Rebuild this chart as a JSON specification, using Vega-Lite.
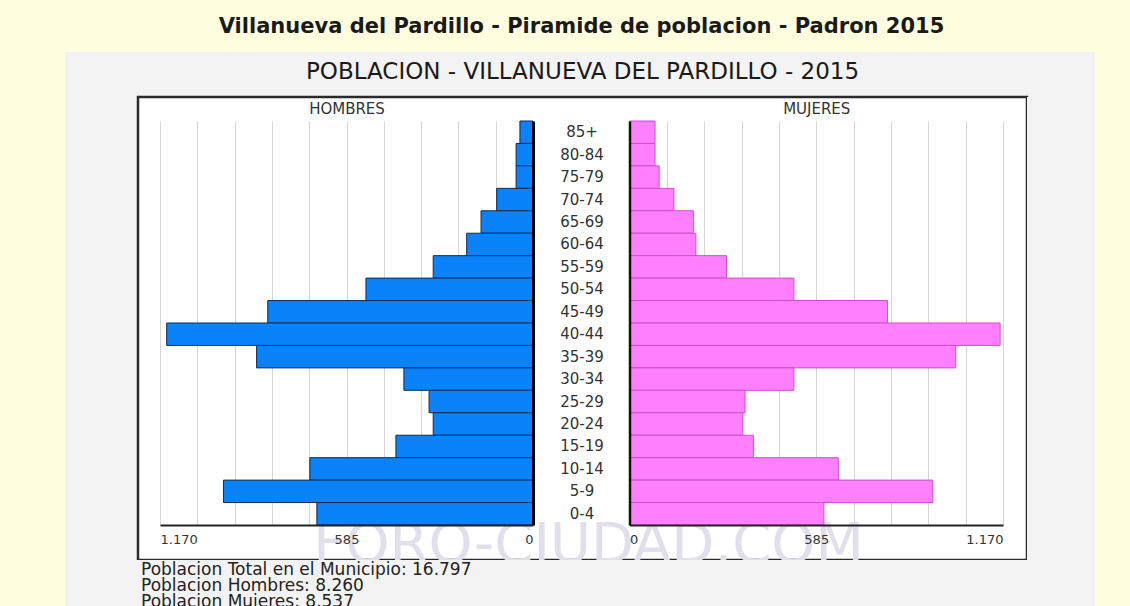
{
  "$schema": "https://vega.github.io/schema/vega-lite/v6.json",
  "background": "#ffffe0",
  "padding": 0,
  "spacing": 0,
  "columns": 5,
  "align": "each",
  "bounds": "flush",
  "config": {
    "font": "DejaVu Sans",
    "view": {"stroke": null},
    "concat": {"spacing": 0},
    "locale": {"number": {"decimal": ",", "thousands": ".", "grouping": [3], "currency": ["", " €"]}}
  },
  "concat": [
    {"width": 65, "height": 52, "data": {"values": [{}]}, "mark": "text", "encoding": {"text": {"value": ""}}},
    {"width": 73, "height": 52, "data": {"values": [{}]}, "mark": "text", "encoding": {"text": {"value": ""}}},
    {
      "width": 889,
      "height": 52,
      "data": {"values": [{"t": "Villanueva del Pardillo - Piramide de poblacion - Padron 2015"}]},
      "mark": {"type": "text", "fontWeight": "bold", "fontSize": 21, "color": "#1a1a1a", "dx": -1, "dy": 1},
      "encoding": {"text": {"field": "t"}}
    },
    {"width": 68, "height": 52, "data": {"values": [{}]}, "mark": "text", "encoding": {"text": {"value": ""}}},
    {"width": 35, "height": 52, "data": {"values": [{}]}, "mark": "text", "encoding": {"text": {"value": ""}}},

    {"width": 65, "height": 45, "data": {"values": [{}]}, "mark": "text", "encoding": {"text": {"value": ""}}},
    {"width": 73, "height": 45, "view": {"fill": "#f3f3f3", "stroke": null}, "data": {"values": [{}]}, "mark": "text", "encoding": {"text": {"value": ""}}},
    {
      "width": 889,
      "height": 45,
      "view": {"fill": "#f3f3f3", "stroke": null},
      "data": {"values": [{"t": "POBLACION - VILLANUEVA DEL PARDILLO - 2015"}]},
      "mark": {"type": "text", "fontSize": 23, "color": "#1a1a1a", "dy": -3},
      "encoding": {"text": {"field": "t"}}
    },
    {"width": 68, "height": 45, "view": {"fill": "#f3f3f3", "stroke": null}, "data": {"values": [{}]}, "mark": "text", "encoding": {"text": {"value": ""}}},
    {"width": 35, "height": 45, "data": {"values": [{}]}, "mark": "text", "encoding": {"text": {"value": ""}}},

    {"width": 65, "height": 463, "data": {"values": [{}]}, "mark": "text", "encoding": {"text": {"value": ""}}},
    {"width": 73, "height": 463, "view": {"fill": "#f3f3f3", "stroke": null}, "data": {"values": [{}]}, "mark": "text", "encoding": {"text": {"value": ""}}},
    {
      "width": 889,
      "height": 463,
      "view": {"fill": "#ffffff", "stroke": "#2a2a2a", "strokeWidth": 2.5},
      "data": {
        "values": [
          {"edad": "85+", "hombres": 41, "mujeres": 80},
          {"edad": "80-84", "hombres": 53, "mujeres": 80},
          {"edad": "75-79", "hombres": 53, "mujeres": 93},
          {"edad": "70-74", "hombres": 114, "mujeres": 139},
          {"edad": "65-69", "hombres": 163, "mujeres": 200},
          {"edad": "60-64", "hombres": 208, "mujeres": 208},
          {"edad": "55-59", "hombres": 313, "mujeres": 304},
          {"edad": "50-54", "hombres": 524, "mujeres": 515},
          {"edad": "45-49", "hombres": 832, "mujeres": 808},
          {"edad": "40-44", "hombres": 1149, "mujeres": 1161},
          {"edad": "35-39", "hombres": 867, "mujeres": 1022},
          {"edad": "30-34", "hombres": 405, "mujeres": 515},
          {"edad": "25-29", "hombres": 326, "mujeres": 362},
          {"edad": "20-24", "hombres": 313, "mujeres": 355},
          {"edad": "15-19", "hombres": 430, "mujeres": 388},
          {"edad": "10-14", "hombres": 700, "mujeres": 654},
          {"edad": "5-9", "hombres": 971, "mujeres": 950},
          {"edad": "0-4", "hombres": 678, "mujeres": 609}
        ]
      },
      "resolve": {"scale": {"x": "independent"}, "axis": {"x": "independent", "y": "independent"}},
      "layer": [
        {
          "data": {"values": [{"w": "FORO-CIUDAD.COM"}]},
          "mark": {"type": "text", "fontSize": 56, "color": "#e0e0ec", "dx": 6, "dy": 216},
          "encoding": {"text": {"field": "w"}}
        },
        {
          "mark": {"type": "bar", "color": "#0a82fa", "stroke": "#0c2d55", "strokeWidth": 1},
          "encoding": {
            "y": {
              "field": "edad", "type": "nominal", "sort": null,
              "scale": {"domain": ["85+","80-84","75-79","70-74","65-69","60-64","55-59","50-54","45-49","40-44","35-39","30-34","25-29","20-24","15-19","10-14","5-9","0-4"], "range": [24, 428], "paddingInner": 0, "paddingOuter": 0},
              "axis": {"orient": "left", "offset": -395, "domainColor": "#000000", "domainWidth": 3, "labels": false, "ticks": false, "tickSize": 0, "grid": false, "title": null, "zindex": 2}
            },
            "x": {
              "field": "hombres", "type": "quantitative",
              "scale": {"domain": [0, 1170], "range": [395, 22]},
              "axis": {
                "orient": "top", "offset": -428,
                "values": [0, 117, 234, 351, 468, 585, 702, 819, 936, 1053, 1170],
                "labels": false, "ticks": false, "domain": false, "title": null,
                "grid": true, "gridColor": "#d6d6d6", "gridWidth": 1,
                "zindex": 0
              }
            }
          }
        },
        {
          "mark": {"type": "bar", "color": "#ff80ff", "stroke": "#d04cd0", "strokeWidth": 1},
          "encoding": {
            "y": {
              "field": "edad", "type": "nominal", "sort": null,
              "scale": {"domain": ["85+","80-84","75-79","70-74","65-69","60-64","55-59","50-54","45-49","40-44","35-39","30-34","25-29","20-24","15-19","10-14","5-9","0-4"], "range": [24, 428], "paddingInner": 0, "paddingOuter": 0},
              "axis": {"orient": "left", "offset": -491.5, "domainColor": "#111111", "domainWidth": 2.5, "labels": true, "labelAlign": "center", "labelBaseline": "middle", "labelPadding": 48, "labelFontSize": 15, "labelColor": "#333333", "ticks": false, "tickSize": 0, "grid": false, "title": null, "zindex": 2}
            },
            "x": {
              "field": "mujeres", "type": "quantitative",
              "scale": {"domain": [0, 1170], "range": [491.5, 865]},
              "axis": {
                "orient": "top", "offset": -428,
                "values": [0, 117, 234, 351, 468, 585, 702, 819, 936, 1053, 1170],
                "labels": false, "ticks": false, "domain": false, "title": null,
                "grid": true, "gridColor": "#d6d6d6", "gridWidth": 1,
                "zindex": 0
              }
            }
          }
        },
        {
          "mark": {"type": "bar", "opacity": 0},
          "encoding": {
            "y": {
              "field": "edad", "type": "nominal", "sort": null,
              "scale": {"domain": ["85+","80-84","75-79","70-74","65-69","60-64","55-59","50-54","45-49","40-44","35-39","30-34","25-29","20-24","15-19","10-14","5-9","0-4"], "range": [24, 428], "paddingInner": 0, "paddingOuter": 0},
              "axis": null
            },
            "x": {
              "field": "hombres", "type": "quantitative",
              "scale": {"domain": [0, 1170], "range": [395, 22]},
              "axis": {
                "orient": "top", "offset": -428,
                "values": [0, 585, 1170],
                "format": ",d",
                "labelFlush": true, "labelOverlap": false,
                "labelFontSize": 13, "labelColor": "#333333", "labelPadding": -8, "labelBaseline": "top",
                "ticks": false, "tickSize": 0,
                "domainColor": "#222222", "domainWidth": 2,
                "grid": false,
                "title": "HOMBRES", "titleY": -417, "titleFontSize": 15, "titleFontWeight": "normal", "titleColor": "#333333", "titleBaseline": "middle",
                "zindex": 1
              }
            }
          }
        },
        {
          "mark": {"type": "bar", "opacity": 0},
          "encoding": {
            "y": {
              "field": "edad", "type": "nominal", "sort": null,
              "scale": {"domain": ["85+","80-84","75-79","70-74","65-69","60-64","55-59","50-54","45-49","40-44","35-39","30-34","25-29","20-24","15-19","10-14","5-9","0-4"], "range": [24, 428], "paddingInner": 0, "paddingOuter": 0},
              "axis": null
            },
            "x": {
              "field": "mujeres", "type": "quantitative",
              "scale": {"domain": [0, 1170], "range": [491.5, 865]},
              "axis": {
                "orient": "top", "offset": -428,
                "values": [0, 585, 1170],
                "format": ",d",
                "labelFlush": true, "labelOverlap": false,
                "labelFontSize": 13, "labelColor": "#333333", "labelPadding": -8, "labelBaseline": "top",
                "ticks": false, "tickSize": 0,
                "domainColor": "#222222", "domainWidth": 2,
                "grid": false,
                "title": "MUJERES", "titleY": -417, "titleFontSize": 15, "titleFontWeight": "normal", "titleColor": "#333333", "titleBaseline": "middle",
                "zindex": 1
              }
            }
          }
        }
      ]
    },
    {"width": 68, "height": 463, "view": {"fill": "#f3f3f3", "stroke": null}, "data": {"values": [{}]}, "mark": "text", "encoding": {"text": {"value": ""}}},
    {"width": 35, "height": 463, "data": {"values": [{}]}, "mark": "text", "encoding": {"text": {"value": ""}}},

    {"width": 65, "height": 46, "data": {"values": [{}]}, "mark": "text", "encoding": {"text": {"value": ""}}},
    {"width": 73, "height": 46, "view": {"fill": "#f3f3f3", "stroke": null}, "data": {"values": [{}]}, "mark": "text", "encoding": {"text": {"value": ""}}},
    {
      "width": 889,
      "height": 46,
      "view": {"fill": "#f3f3f3", "stroke": null},
      "title": {
        "text": ["Poblacion Total en el Municipio: 16.797", "Poblacion Hombres: 8.260", "Poblacion Mujeres: 8.537"],
        "orient": "bottom", "anchor": "start", "frame": "group", "baseline": "top",
        "offset": -44, "dx": 3, "fontSize": 17, "lineHeight": 16, "fontWeight": "normal", "color": "#222222"
      },
      "data": {"values": [{}]},
      "mark": "text",
      "encoding": {"text": {"value": ""}}
    },
    {"width": 68, "height": 46, "view": {"fill": "#f3f3f3", "stroke": null}, "data": {"values": [{}]}, "mark": "text", "encoding": {"text": {"value": ""}}},
    {"width": 35, "height": 46, "data": {"values": [{}]}, "mark": "text", "encoding": {"text": {"value": ""}}}
  ]
}
